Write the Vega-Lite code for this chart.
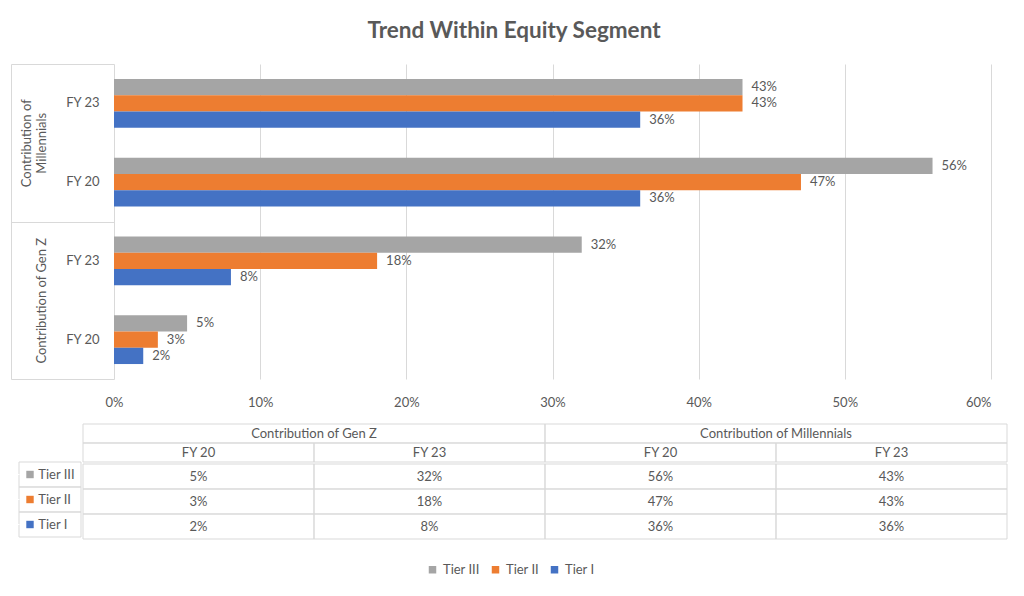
{
  "$schema": "https://vega.github.io/schema/vega-lite/v6.json",
  "background": "white",
  "padding": {"left": 10, "top": 20, "right": 4, "bottom": 4},
  "title": {"text": "Trend Within Equity Segment", "font": "Lato", "fontSize": 22.5, "fontWeight": "bold", "color": "#595959", "anchor": "middle", "offset": 21, "dx": 5},
  "datasets": {
    "equity": [
      {"group": "Contribution of Gen Z", "fy": "FY 20", "row": "Gen Z FY 20", "tier": "Tier III", "value": 0.05},
      {"group": "Contribution of Gen Z", "fy": "FY 20", "row": "Gen Z FY 20", "tier": "Tier II", "value": 0.03},
      {"group": "Contribution of Gen Z", "fy": "FY 20", "row": "Gen Z FY 20", "tier": "Tier I", "value": 0.02},
      {"group": "Contribution of Gen Z", "fy": "FY 23", "row": "Gen Z FY 23", "tier": "Tier III", "value": 0.32},
      {"group": "Contribution of Gen Z", "fy": "FY 23", "row": "Gen Z FY 23", "tier": "Tier II", "value": 0.18},
      {"group": "Contribution of Gen Z", "fy": "FY 23", "row": "Gen Z FY 23", "tier": "Tier I", "value": 0.08},
      {"group": "Contribution of Millennials", "fy": "FY 20", "row": "Millennials FY 20", "tier": "Tier III", "value": 0.56},
      {"group": "Contribution of Millennials", "fy": "FY 20", "row": "Millennials FY 20", "tier": "Tier II", "value": 0.47},
      {"group": "Contribution of Millennials", "fy": "FY 20", "row": "Millennials FY 20", "tier": "Tier I", "value": 0.36},
      {"group": "Contribution of Millennials", "fy": "FY 23", "row": "Millennials FY 23", "tier": "Tier III", "value": 0.43},
      {"group": "Contribution of Millennials", "fy": "FY 23", "row": "Millennials FY 23", "tier": "Tier II", "value": 0.43},
      {"group": "Contribution of Millennials", "fy": "FY 23", "row": "Millennials FY 23", "tier": "Tier I", "value": 0.36}
    ]
  },
  "config": {
    "font": "Lato",
    "view": {"stroke": null},
    "axis": {"labelFont": "Lato", "labelFontSize": 13, "labelColor": "#595959", "gridColor": "#d9d9d9", "domainColor": "#d9d9d9", "tickColor": "#d9d9d9"},
    "legend": {"labelFont": "Lato", "labelFontSize": 13, "labelColor": "#595959", "symbolType": "square", "symbolSize": 56, "symbolStrokeWidth": 0, "symbolOpacity": 1, "labelOffset": 4, "title": null}
  },
  "spacing": 14,
  "vconcat": [
    {
      "data": {"name": "equity"},
      "width": 972,
      "height": 315,
      "resolve": {"scale": {"y": "independent"}},
      "layer": [
        {
          "encoding": {
            "x": {
              "field": "value", "type": "quantitative",
              "scale": {"domain": [-0.065, 0.6], "nice": false, "zero": false},
              "axis": {"title": null, "values": [0, 0.1, 0.2, 0.3, 0.4, 0.5, 0.6], "format": ".0%", "grid": true, "domain": false, "ticks": false, "labelPadding": 17}
            },
            "y": {
              "field": "row", "type": "nominal",
              "sort": ["Millennials FY 23", "Millennials FY 20", "Gen Z FY 23", "Gen Z FY 20"],
              "scale": {"paddingInner": 0.38, "paddingOuter": 0.19},
              "axis": {"title": null, "domain": false, "ticks": false, "labelPadding": -80, "labelExpr": "slice(datum.value, -5)"}
            },
            "yOffset": {"field": "tier", "type": "nominal", "sort": ["Tier III", "Tier II", "Tier I"], "scale": {"paddingInner": 0, "paddingOuter": 0}}
          },
          "layer": [
            {
              "mark": {"type": "bar"},
              "encoding": {
                "x2": {"datum": 0},
                "color": {
                  "field": "tier", "type": "nominal",
                  "scale": {"domain": ["Tier III", "Tier II", "Tier I"], "range": ["#A5A5A5", "#ED7D31", "#4472C4"]},
                  "legend": {"orient": "none", "direction": "horizontal", "legendX": 407, "legendY": 499, "columnPadding": 9}
                }
              }
            },
            {
              "mark": {"type": "text", "align": "left", "baseline": "middle", "dx": 9, "fontSize": 13, "color": "#595959"},
              "encoding": {"text": {"field": "value", "format": ".0%"}}
            }
          ]
        },
        {
          "mark": {"type": "rect", "opacity": 0},
          "encoding": {
            "y": {
              "field": "group", "type": "nominal",
              "sort": ["Contribution of Millennials", "Contribution of Gen Z"],
              "scale": {"paddingInner": 0, "paddingOuter": 0},
              "axis": {
                "title": null, "orient": "left", "offset": 8, "domain": true,
                "tickBand": "extent", "tickSize": -103,
                "labelAngle": -90, "labelAlign": "center", "labelBaseline": "middle", "labelLineHeight": 15,
                "labelPadding": {"condition": {"test": "datum.value == 'Contribution of Millennials'", "value": 88}, "value": 73},
                "labelExpr": "datum.value == 'Contribution of Millennials' ? ['Contribution of', 'Millennials'] : datum.value"
              }
            }
          }
        }
      ]
    },
    {
      "spacing": 0,
      "hconcat": [
        {
          "data": {"name": "equity"},
          "transform": [{"filter": "datum.group === 'Contribution of Gen Z' && datum.fy === 'FY 20'"}],
          "width": 62,
          "height": 113,
          "encoding": {
            "x": {"datum": "Tiers", "type": "nominal", "scale": {"paddingInner": 0, "paddingOuter": 0}, "axis": null},
            "y": {
              "field": "tier", "type": "nominal", "sort": ["Tier III", "Tier II", "Tier I"],
              "scale": {"paddingInner": 0, "paddingOuter": 0.76, "align": 1},
              "axis": {"title": null, "labels": false, "domain": false, "ticks": true, "tickSize": 7, "tickColor": "white"}
            }
          },
          "layer": [
            {"mark": {"type": "rect", "filled": false, "stroke": "#d9d9d9", "strokeWidth": 1}},
            {
              "mark": {"type": "point", "shape": "square", "filled": true, "size": 55, "opacity": 1, "xOffset": -20},
              "encoding": {"color": {"field": "tier", "type": "nominal"}}
            },
            {
              "mark": {"type": "text", "align": "left", "baseline": "middle", "fontSize": 13, "color": "#595959", "dx": -11.7},
              "encoding": {"text": {"field": "tier"}}
            }
          ]
        },
        {
          "spacing": 0,
          "vconcat": [
            {
              "data": {"name": "equity"},
              "transform": [{"filter": "datum.tier === 'Tier III'"}],
              "width": 924,
              "height": 38,
              "layer": [
                {
                  "transform": [{"filter": "datum.fy === 'FY 20'"}],
                  "encoding": {
                    "x": {"field": "group", "type": "nominal", "sort": ["Contribution of Gen Z", "Contribution of Millennials"], "scale": {"paddingInner": 0, "paddingOuter": 0}, "axis": null},
                    "y": {"datum": "G", "type": "nominal", "scale": {"domain": ["G", "FY"], "paddingInner": 0, "paddingOuter": 0}, "axis": null}
                  },
                  "layer": [
                    {"mark": {"type": "rect", "filled": false, "stroke": "#d9d9d9", "strokeWidth": 1}},
                    {"mark": {"type": "text", "fontSize": 13, "color": "#595959"}, "encoding": {"text": {"field": "group"}}}
                  ]
                },
                {
                  "encoding": {
                    "x": {"field": "group", "type": "nominal", "sort": ["Contribution of Gen Z", "Contribution of Millennials"], "scale": {"paddingInner": 0, "paddingOuter": 0}, "axis": null},
                    "xOffset": {"field": "fy", "type": "nominal", "sort": ["FY 20", "FY 23"], "scale": {"paddingInner": 0, "paddingOuter": 0}},
                    "y": {"datum": "FY", "type": "nominal", "axis": null}
                  },
                  "layer": [
                    {"mark": {"type": "rect", "filled": false, "stroke": "#d9d9d9", "strokeWidth": 1}},
                    {"mark": {"type": "text", "fontSize": 13, "color": "#595959"}, "encoding": {"text": {"field": "fy"}}}
                  ]
                }
              ]
            },
            {
              "data": {"name": "equity"},
              "width": 924,
              "height": 75,
              "encoding": {
                "x": {"field": "group", "type": "nominal", "sort": ["Contribution of Gen Z", "Contribution of Millennials"], "scale": {"paddingInner": 0, "paddingOuter": 0}, "axis": null},
                "xOffset": {"field": "fy", "type": "nominal", "sort": ["FY 20", "FY 23"], "scale": {"paddingInner": 0, "paddingOuter": 0}},
                "y": {"field": "tier", "type": "nominal", "sort": ["Tier III", "Tier II", "Tier I"], "scale": {"paddingInner": 0, "paddingOuter": 0}, "axis": null}
              },
              "layer": [
                {"mark": {"type": "rect", "filled": false, "stroke": "#d9d9d9", "strokeWidth": 1}},
                {"mark": {"type": "text", "fontSize": 13, "color": "#595959"}, "encoding": {"text": {"field": "value", "format": ".0%"}}}
              ]
            }
          ]
        }
      ]
    }
  ]
}
